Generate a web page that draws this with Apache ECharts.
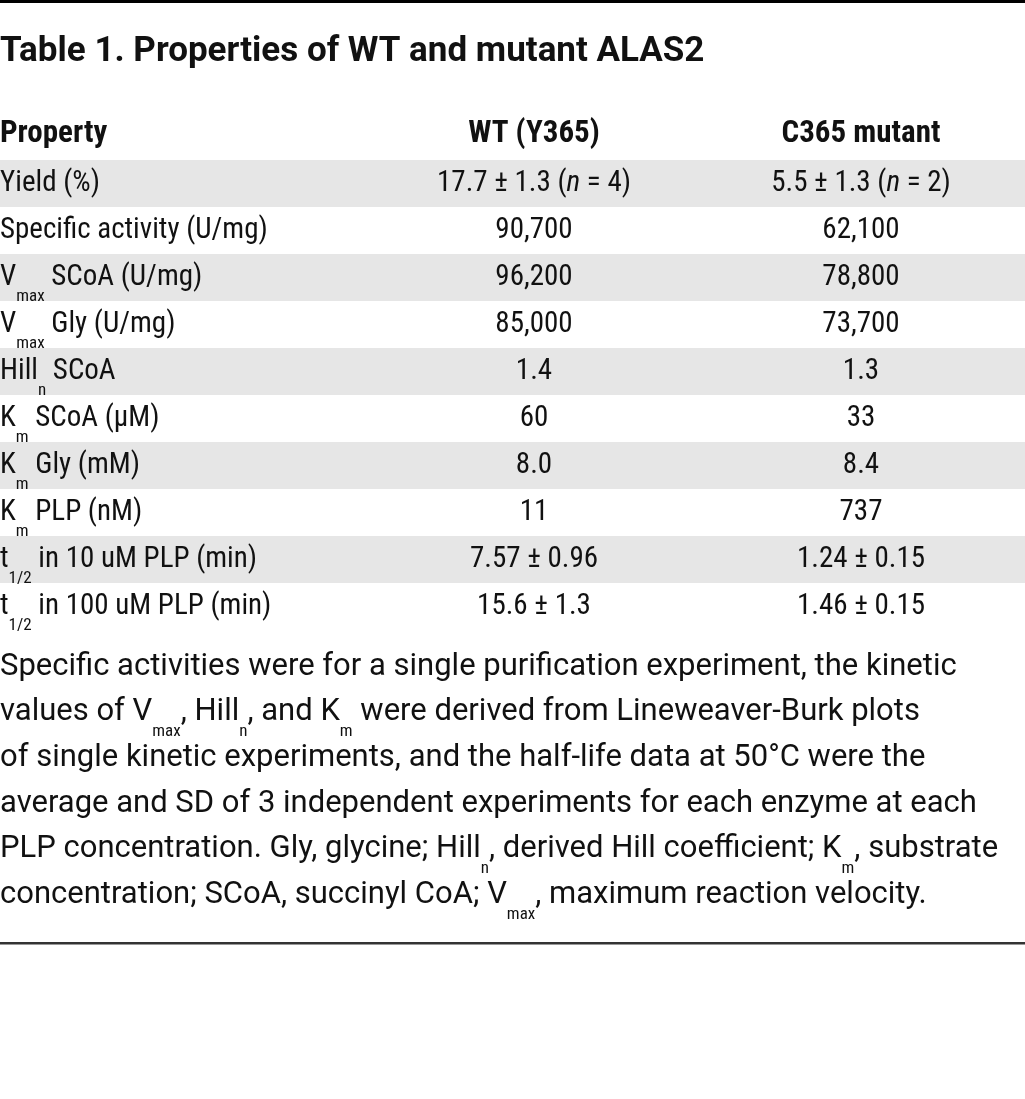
<!DOCTYPE html>
<html><head><meta charset="utf-8">
<script src="https://cdn.jsdelivr.net/npm/echarts@6/dist/echarts.min.js"></script>
<style>html,body{margin:0;padding:0;background:#fff}#chart{width:1025px;height:1099px}</style>
</head><body><div id="chart"></div>
<script>
// ---- data ----
const TITLE = 'Table 1. Properties of WT and mutant ALAS2';
const columnHeaders = ['Property', 'WT (Y365)', 'C365 mutant'];
const properties = [
  'Yield (%)',
  'Specific activity (U/mg)',
  'V{s|max} SCoA (U/mg)',
  'V{s|max} Gly (U/mg)',
  'Hill{s|n} SCoA',
  'K{s|m} SCoA (\u03bcM)',
  'K{s|m} Gly (mM)',
  'K{s|m} PLP (nM)',
  't{s|1/2} in 10 uM PLP (min)',
  't{s|1/2} in 100 uM PLP (min)'
];
const wtValues = ['17.7 \u00b1 1.3 ({i|n} = 4)', '90,700', '96,200', '85,000', '1.4', '60', '8.0', '11', '7.57 \u00b1 0.96', '15.6 \u00b1 1.3'];
const mutantValues = ['5.5 \u00b1 1.3 ({i|n} = 2)', '62,100', '78,800', '73,700', '1.3', '33', '8.4', '737', '1.24 \u00b1 0.15', '1.46 \u00b1 0.15'];
const footnoteLines = [
  'Specific activities were for a single purification experiment, the kinetic',
  'values of V{s|max}, Hill{s|n}, and K{s|m} were derived from Lineweaver-Burk plots',
  'of single kinetic experiments, and the half-life data at 50\u00b0C were the',
  'average and SD of 3 independent experiments for each enzyme at each',
  'PLP concentration. Gly, glycine; Hill{s|n}, derived Hill coefficient; K{s|m}, substrate',
  'concentration; SCoA, succinyl CoA; V{s|max}, maximum reaction velocity.'
];

// ---- layout / style ----
const W = 1025, H = 1099;
const PROP_INSET = 43.5;       // property column text starts at the page edge
const ROW_H = 47;
const TABLE_TOP = 113;
const HEADER_DY = -2;
const STRIPE = '#e6e6e6';
const INK = '#111';
const CELL_FAMILY = 'Roboto Condensed';
const FOOT_FAMILY = 'Roboto';
const SUB_FONT = '17px Roboto Condensed';

const rowCats = [columnHeaders[0]].concat(properties);
const cellData = [];
for (let r = 0; r < rowCats.length; r++) for (let c = 0; c < columnHeaders.length; c++) cellData.push([c, r]);
const stripeData = [];
for (let r = 1; r < rowCats.length; r++) stripeData.push([0, r]);
const columnsData = [properties, wtValues, mutantValues];

const cellRich = {
  s: { font: SUB_FONT, lineHeight: 18, verticalAlign: 'bottom', fill: INK },
  i: { font: 'italic 29px Roboto Condensed', lineHeight: 56, fill: INK }
};
const footRich = {
  s: { font: SUB_FONT, lineHeight: 18, verticalAlign: 'bottom', fill: INK }
};

const chart = echarts.init(document.getElementById('chart'), null, { renderer: 'canvas', width: W, height: H });

const graphic = [
  { type: 'rect', shape: { x: 0, y: 0, width: W, height: 3 }, style: { fill: '#000' } },
  { type: 'text', style: { text: TITLE, x: 0, y: 52, align: 'left', verticalAlign: 'middle',
      font: 'bold 35px Roboto', fill: INK } },
  { type: 'rect', shape: { x: 0, y: 942, width: W, height: 2.5 }, style: { fill: '#333' } }
];
footnoteLines.forEach(function (line, i) {
  graphic.push({ type: 'text', style: { text: line, x: 0, y: 667 + i * 45.6, align: 'left', verticalAlign: 'middle',
    font: '31px ' + FOOT_FAMILY, lineHeight: 56, fill: INK, rich: footRich } });
});

chart.setOption({
  animation: false,
  backgroundColor: '#fff',
  grid: { left: PROP_INSET, right: 0.5, top: TABLE_TOP, height: ROW_H * rowCats.length },
  xAxis: { type: 'category', data: columnHeaders, show: false },
  yAxis: { type: 'category', data: rowCats, inverse: true, show: false },
  graphic: graphic,
  series: [
    {
      type: 'custom', silent: true, data: stripeData,
      renderItem: function (params, api) {
        const r = api.value(1);
        if ((r - 1) % 2 !== 0) return null;
        const p = api.coord([0, r]);
        const h = api.size([0, 1])[1];
        return { type: 'rect', shape: { x: 0, y: p[1] - h / 2, width: api.getWidth(), height: h }, style: { fill: STRIPE } };
      }
    },
    {
      type: 'custom', silent: true, data: cellData,
      renderItem: function (params, api) {
        const c = api.value(0), r = api.value(1);
        const p = api.coord([c, r]);
        const header = r === 0;
        const text = header ? columnHeaders[c] : columnsData[c][r - 1];
        const x = c === 0 ? params.coordSys.x - PROP_INSET : p[0];
        return {
          type: 'text',
          style: {
            text: text, x: x, y: p[1] + (header ? HEADER_DY : 0),
            align: c === 0 ? 'left' : 'center', verticalAlign: 'middle',
            font: (header ? 'bold 31px ' : '29px ') + CELL_FAMILY,
            lineHeight: 56, fill: INK, rich: cellRich
          }
        };
      }
    }
  ]
});
</script></body></html>
